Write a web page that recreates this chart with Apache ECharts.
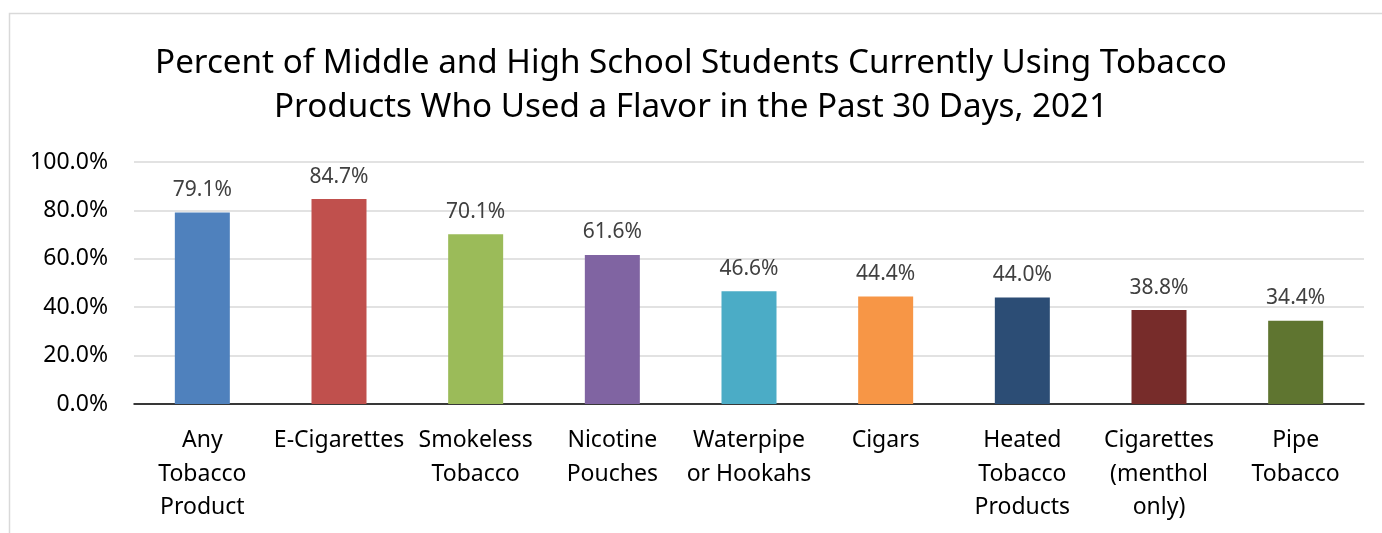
<!DOCTYPE html>
<html>
<head>
<meta charset="utf-8">
<script src="https://cdn.jsdelivr.net/npm/echarts@6/dist/echarts.min.js"></script>
<style>
  html, body { margin: 0; padding: 0; background: #fff; }
  #main { width: 1382px; height: 533px; }
</style>
</head>
<body>
<div id="main"></div>
<script>
// categories (line breaks as in the original chart)
var categories = [
  'Any\nTobacco\nProduct', 'E-Cigarettes', 'Smokeless\nTobacco', 'Nicotine\nPouches',
  'Waterpipe\nor Hookahs', 'Cigars', 'Heated\nTobacco\nProducts',
  'Cigarettes\n(menthol\nonly)', 'Pipe\nTobacco'
];
var values = [79.1, 84.7, 70.1, 61.6, 46.6, 44.4, 44.0, 38.8, 34.4];
var barColors = ['#4F81BD', '#C0504D', '#9BBB59', '#8064A2', '#4BACC6',
  '#F79646', '#2C4D75', '#772C2A', '#5F7530'];
var titleLines = [
  'Percent of Middle and High School Students Currently Using Tobacco',
  'Products Who Used a Flavor in the Past 30 Days, 2021'
];

var font = '"Noto Sans", sans-serif';
var myChart = echarts.init(document.getElementById('main'));

var option = {
  animation: false,
  graphic: [{
    type: 'rect',
    shape: { x: 9.5, y: 13.5, width: 1400, height: 600 },
    style: { fill: 'none', stroke: '#d9d9d9', lineWidth: 1.5 },
    silent: true
  }],
  title: {
    text: titleLines.join('\n'),
    left: 'center',
    top: 37,
    textStyle: {
      fontFamily: font,
      fontWeight: 'normal',
      fontSize: 33.2,
      lineHeight: 44,
      color: '#000'
    }
  },
  grid: {
    left: 134,
    right: 18,
    top: 162,
    bottom: 129,
    containLabel: false
  },
  xAxis: {
    type: 'category',
    data: categories,
    axisTick: { show: false },
    axisLine: { lineStyle: { color: '#000', width: 1.5 } },
    axisLabel: {
      interval: 0,
      margin: 20,
      fontFamily: font,
      fontSize: 23,
      lineHeight: 33.5,
      color: '#000'
    }
  },
  yAxis: {
    type: 'value',
    min: 0,
    max: 100,
    interval: 20,
    axisLine: { show: false },
    axisTick: { show: false },
    splitLine: { lineStyle: { color: '#d9d9d9', width: 1.5 } },
    axisLabel: {
      margin: 26,
      fontFamily: font,
      fontSize: 23,
      color: '#000',
      formatter: function (v) { return v.toFixed(1) + '%'; }
    }
  },
  series: [{
    type: 'bar',
    data: values.map(function (v, i) {
      return { value: v, itemStyle: { color: barColors[i] } };
    }),
    barWidth: 55,
    label: {
      show: true,
      position: 'top',
      distance: 12,
      fontFamily: font,
      fontSize: 21,
      color: '#404040',
      formatter: function (p) { return p.value.toFixed(1) + '%'; }
    }
  }]
};
myChart.setOption(option);
</script>
</body>
</html>
